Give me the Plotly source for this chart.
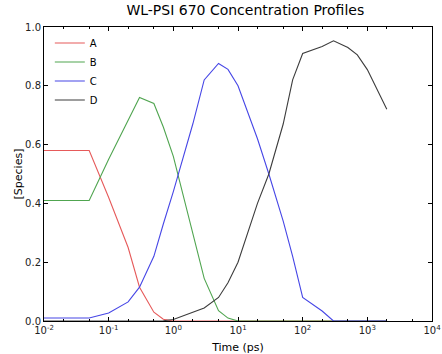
import plotly.graph_objects as go

time_ps = [0.01, 0.05, 0.1, 0.2, 0.3, 0.5, 0.7, 1, 2, 3, 5, 7, 10, 20, 30, 50, 70,
           100, 200, 300, 500, 700, 1000, 2000]
species_A = [0.58, 0.58, 0.42, 0.25, 0.115, 0.03, 0.006, 0.0, 0.0, 0.0, 0.0, 0.0, 0.0,
             0.0, 0.0, 0.0, 0.0, 0.0, 0.0, 0.0, 0.0, 0.0, 0.0, 0.0]
species_B = [0.41, 0.41, 0.55, 0.68, 0.76, 0.74, 0.66, 0.56, 0.30, 0.145, 0.035, 0.01, 0.0,
             0.0, 0.0, 0.0, 0.0, 0.0, 0.0, 0.0, 0.0, 0.0, 0.0, 0.0]
species_C = [0.01, 0.01, 0.027, 0.065, 0.115, 0.22, 0.33, 0.44, 0.67, 0.82, 0.876, 0.856, 0.80,
             0.62, 0.50, 0.34, 0.22, 0.08, 0.034, 0.0, 0.0, 0.0, 0.0, 0.0]
species_D = [0.0, 0.0, 0.0, 0.0, 0.0, 0.0, 0.001, 0.005, 0.03, 0.044, 0.08, 0.13, 0.20,
             0.40, 0.50, 0.67, 0.82, 0.91, 0.934, 0.953, 0.93, 0.905, 0.855, 0.72]
series_names = ["A", "B", "C", "D"]
series_colors = ["rgb(230,90,90)", "rgb(80,165,80)", "rgb(70,70,230)", "rgb(60,60,60)"]

x_tickvals = [0.01, 0.1, 1, 10, 100, 1000, 10000]
x_ticktext = ["10<sup>-2</sup>", "10<sup>-1</sup>", "10<sup>0</sup>", "10<sup>1</sup>",
              "10<sup>2</sup>", "10<sup>3</sup>", "10<sup>4</sup>"]
y_tickvals = [0.0, 0.2, 0.4, 0.6, 0.8, 1.0]
y_ticktext = ["0.0", "0.2", "0.4", "0.6", "0.8", "1.0"]

fig = go.Figure()
for name, ys, col in zip(series_names, [species_A, species_B, species_C, species_D], series_colors):
    fig.add_trace(go.Scatter(x=time_ps, y=ys, mode="lines", name=name,
                             line=dict(color=col, width=1.1)))

font = "DejaVu Sans, sans-serif"
fig.update_layout(
    width=442, height=354,
    margin=dict(l=44, r=10, t=27, b=33, autoexpand=False),
    paper_bgcolor="white", plot_bgcolor="white",
    font=dict(family=font, size=10, color="#222"),
    title=dict(text="WL-PSI 670 Concentration Profiles", x=0.555, xanchor="center",
               y=0.985, yanchor="top", font=dict(size=14, color="black")),
    showlegend=True,
    legend=dict(x=0.015, y=0.995, xanchor="left", yanchor="top", bgcolor="rgba(0,0,0,0)",
                font=dict(size=10, color="black"), tracegroupgap=0, itemwidth=30),
)
fig.update_xaxes(
    type="log", range=[-2, 4], tickvals=x_tickvals, ticktext=x_ticktext, automargin=False,
    ticks="inside", ticklen=4, tickcolor="black", showline=True, linecolor="black",
    linewidth=1, mirror="ticks", showgrid=False, zeroline=False,
    minor=dict(ticks="inside", ticklen=2, tickcolor="black", showgrid=False),
    title=dict(text="Time (ps)", font=dict(size=11, color="black"), standoff=8),
    tickfont=dict(size=10),
)
fig.update_yaxes(
    range=[0, 1], tickvals=y_tickvals, ticktext=y_ticktext, automargin=False,
    ticks="inside", ticklen=4, tickcolor="black", showline=True, linecolor="black",
    linewidth=1, mirror="ticks", showgrid=False, zeroline=False,
    title=dict(text="[Species]", font=dict(size=11, color="black"), standoff=0),
    tickfont=dict(size=10),
)
fig.write_html("out.html")
